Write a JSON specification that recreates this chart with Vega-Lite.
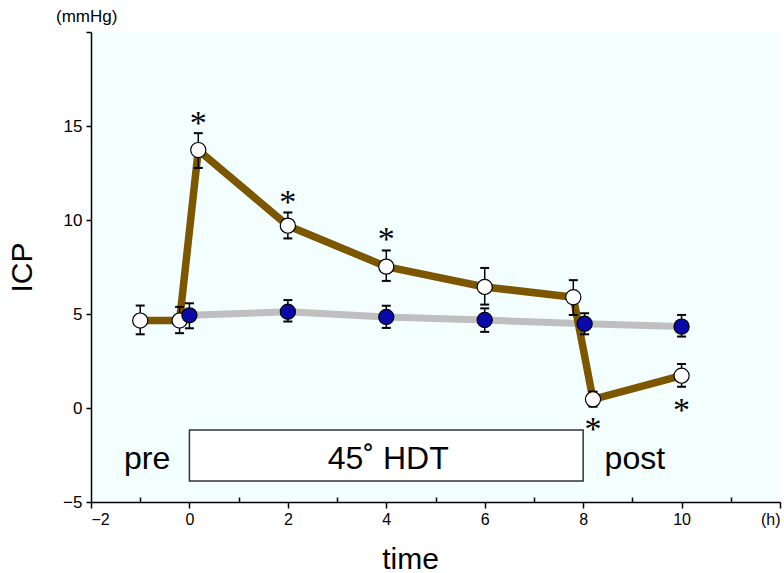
{
  "$schema": "https://vega.github.io/schema/vega-lite/v6.json",
  "width": 689,
  "height": 470,
  "autosize": {"type": "none"},
  "padding": {"left": 91, "top": 32, "right": 4, "bottom": 71},
  "background": "white",
  "config": {
    "view": {"fill": "#f3fefe", "stroke": null},
    "font": "Liberation Sans",
    "axis": {"grid": false, "domainColor": "black", "tickColor": "black", "labelColor": "black", "titleColor": "black", "domainWidth": 1.5, "tickWidth": 1.5, "titleFontWeight": "normal", "labelFont": "Liberation Sans", "titleFont": "Liberation Sans"}
  },
  "title": {"text": "(mmHg)", "anchor": "start", "frame": "group", "fontSize": 17, "fontWeight": "normal", "font": "Liberation Sans", "dx": -35, "offset": 5, "color": "black"},
  "datasets": {
    "pts": [
      {"group": "HDT", "time": -1, "icp": 4.65, "lo": 3.92, "hi": 5.45},
      {"group": "HDT", "time": -0.2, "icp": 4.65, "lo": 3.98, "hi": 5.38},
      {"group": "HDT", "time": 0.18, "icp": 13.72, "lo": 12.77, "hi": 14.62},
      {"group": "HDT", "time": 2, "icp": 9.7, "lo": 9.02, "hi": 10.4},
      {"group": "HDT", "time": 4, "icp": 7.52, "lo": 6.76, "hi": 8.38},
      {"group": "HDT", "time": 6, "icp": 6.44, "lo": 5.5, "hi": 7.45},
      {"group": "HDT", "time": 7.8, "icp": 5.89, "lo": 4.95, "hi": 6.8},
      {"group": "HDT", "time": 8.2, "icp": 0.46, "lo": 0.07, "hi": 0.87},
      {"group": "HDT", "time": 10, "icp": 1.72, "lo": 1.13, "hi": 2.34},
      {"group": "control", "time": 0, "icp": 4.93, "lo": 4.24, "hi": 5.57},
      {"group": "control", "time": 2, "icp": 5.12, "lo": 4.6, "hi": 5.74},
      {"group": "control", "time": 4, "icp": 4.84, "lo": 4.26, "hi": 5.44},
      {"group": "control", "time": 6, "icp": 4.68, "lo": 4.05, "hi": 5.3},
      {"group": "control", "time": 8.03, "icp": 4.48, "lo": 3.92, "hi": 5.04},
      {"group": "control", "time": 10, "icp": 4.33, "lo": 3.8, "hi": 4.95}
    ],
    "stars": [
      {"time": 0.18, "pos": 14.6},
      {"time": 2, "pos": 10.38},
      {"time": 4, "pos": 8.39},
      {"time": 8.2, "pos": -1.7},
      {"time": 10, "pos": -0.68}
    ],
    "box": [{"start": 0, "end": 8, "bottom": -3.88, "top": -1.17}],
    "labels": [
      {"time": -0.86, "pos": -3.24, "label": "pre"},
      {"time": 4.04, "pos": -3.24, "label": "45˚ HDT"},
      {"time": 9.05, "pos": -3.24, "label": "post"}
    ]
  },
  "layer": [
    {
      "data": {"name": "box"},
      "mark": {"type": "rect", "fill": "white", "stroke": "#333333", "strokeWidth": 1.5},
      "encoding": {
        "x": {"field": "start", "type": "quantitative",
          "scale": {"domain": [-2, 12], "nice": false, "zero": false},
          "axis": {"values": [-2, -1, 0, 1, 2, 3, 4, 5, 6, 7, 8, 9, 10, 11, 12],
            "labelExpr": "datum.value % 2 != 0 ? '' : (datum.value == 12 ? '(h)' : datum.label)",
            "labelOverlap": false, "labelFontSize": 16, "labelPadding": 3,
            "tickSize": {"condition": {"test": "datum.value % 2 != 0", "value": -5}, "value": 6},
            "title": "time", "titleFontSize": 30, "titleX": 319, "titleY": 66, "titleBaseline": "alphabetic", "titleAlign": "center"}},
        "x2": {"field": "end"},
        "y": {"field": "bottom", "type": "quantitative",
          "scale": {"domain": [-5, 20], "nice": false, "zero": false},
          "axis": {"values": [-5, 0, 5, 10, 15, 20],
            "labelExpr": "datum.value == 20 ? '' : datum.label",
            "labelFontSize": 17, "labelPadding": 4, "tickSize": 5,
            "title": "ICP", "titleFontSize": 30, "titleX": -69, "titleY": 235, "titleAngle": -90, "titleBaseline": "middle", "titleAlign": "center"}},
        "y2": {"field": "top"}
      }
    },
    {
      "data": {"name": "labels"},
      "mark": {"type": "text", "fontSize": 32, "baseline": "alphabetic", "align": "center", "color": "black", "font": "Liberation Sans"},
      "encoding": {
        "x": {"field": "time", "type": "quantitative"},
        "y": {"field": "pos", "type": "quantitative"},
        "text": {"field": "label"}
      }
    },
    {
      "data": {"name": "pts"},
      "transform": [{"filter": "datum.group == 'control'"}],
      "mark": {"type": "line", "color": "#bfbfbf", "strokeWidth": 7},
      "encoding": {
        "x": {"field": "time", "type": "quantitative"},
        "y": {"field": "icp", "type": "quantitative"},
        "order": {"field": "time"}
      }
    },
    {
      "data": {"name": "pts"},
      "transform": [{"filter": "datum.group == 'HDT'"}],
      "mark": {"type": "line", "color": "#7d5600", "strokeWidth": 7.5},
      "encoding": {
        "x": {"field": "time", "type": "quantitative"},
        "y": {"field": "icp", "type": "quantitative"},
        "order": {"field": "time"}
      }
    },
    {
      "data": {"name": "pts"},
      "mark": {"type": "rule", "color": "black", "strokeWidth": 1.5},
      "encoding": {
        "x": {"field": "time", "type": "quantitative"},
        "y": {"field": "lo", "type": "quantitative"},
        "y2": {"field": "hi"}
      }
    },
    {
      "data": {"name": "pts"},
      "mark": {"type": "point", "shape": "stroke", "size": 81, "stroke": "black", "strokeWidth": 2, "opacity": 1},
      "encoding": {
        "x": {"field": "time", "type": "quantitative"},
        "y": {"field": "lo", "type": "quantitative"}
      }
    },
    {
      "data": {"name": "pts"},
      "mark": {"type": "point", "shape": "stroke", "size": 81, "stroke": "black", "strokeWidth": 2, "opacity": 1},
      "encoding": {
        "x": {"field": "time", "type": "quantitative"},
        "y": {"field": "hi", "type": "quantitative"}
      }
    },
    {
      "data": {"name": "pts"},
      "transform": [{"filter": "datum.group == 'HDT'"}],
      "mark": {"type": "point", "shape": "circle", "filled": true, "fill": "white", "stroke": "black", "strokeWidth": 1.2, "size": 230, "opacity": 1},
      "encoding": {
        "x": {"field": "time", "type": "quantitative"},
        "y": {"field": "icp", "type": "quantitative"}
      }
    },
    {
      "data": {"name": "pts"},
      "transform": [{"filter": "datum.group == 'control'"}],
      "mark": {"type": "point", "shape": "circle", "filled": true, "fill": "#0a0aaa", "stroke": "black", "strokeWidth": 1.2, "size": 230, "opacity": 1},
      "encoding": {
        "x": {"field": "time", "type": "quantitative"},
        "y": {"field": "icp", "type": "quantitative"}
      }
    },
    {
      "data": {"name": "stars"},
      "mark": {"type": "text", "text": "*", "fontSize": 34, "font": "Liberation Serif", "baseline": "alphabetic", "align": "center", "color": "black"},
      "encoding": {
        "x": {"field": "time", "type": "quantitative"},
        "y": {"field": "pos", "type": "quantitative"}
      }
    }
  ]
}
